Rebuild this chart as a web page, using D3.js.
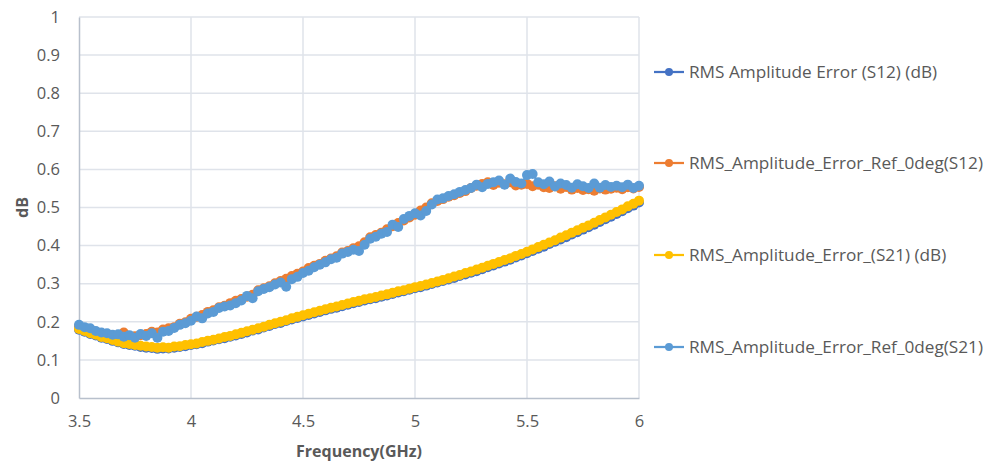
<!DOCTYPE html>
<html>
<head>
<meta charset="utf-8">
<script src="https://cdn.jsdelivr.net/npm/d3@7"></script>
<style>
  body { margin: 0; background: #fff; }
  svg { display: block; font-family: "Open Sans", "Liberation Sans", sans-serif; }
</style>
</head>
<body>
<svg id="chart" width="997" height="462"></svg>
<script>
// Frequency sweep (GHz), 3.5 to 6 in 0.025 steps
const freq = d3.range(0, 101).map((i) => +(3.5 + i * 0.025).toFixed(3));

// RMS Amplitude Error (S12) (dB)
const s12 = [
  0.179, 0.174, 0.168, 0.164, 0.158, 0.155, 0.150, 0.146, 0.142, 0.139,
  0.137, 0.134, 0.132, 0.131, 0.129, 0.130, 0.130, 0.132, 0.134, 0.136,
  0.139, 0.141, 0.144, 0.148, 0.151, 0.154, 0.157, 0.161, 0.164, 0.168,
  0.172, 0.177, 0.180, 0.185, 0.189, 0.194, 0.197, 0.202, 0.206, 0.210,
  0.214, 0.218, 0.222, 0.226, 0.230, 0.234, 0.237, 0.241, 0.245, 0.249,
  0.252, 0.256, 0.259, 0.262, 0.266, 0.269, 0.273, 0.277, 0.280, 0.284,
  0.288, 0.291, 0.295, 0.299, 0.303, 0.307, 0.311, 0.315, 0.320, 0.324,
  0.329, 0.333, 0.338, 0.343, 0.348, 0.353, 0.358, 0.363, 0.369, 0.374,
  0.380, 0.386, 0.392, 0.397, 0.404, 0.410, 0.416, 0.422, 0.429, 0.435,
  0.442, 0.448, 0.455, 0.462, 0.469, 0.476, 0.483, 0.490, 0.498, 0.505,
  0.513
];

// RMS_Amplitude_Error_Ref_0deg(S12)
const s12ref = [
  0.188, 0.184, 0.179, 0.174, 0.170, 0.166, 0.164, 0.160, 0.172, 0.159,
  0.162, 0.165, 0.168, 0.174, 0.172, 0.180, 0.183, 0.186, 0.195, 0.199,
  0.208, 0.213, 0.218, 0.226, 0.230, 0.238, 0.242, 0.249, 0.255, 0.260,
  0.266, 0.271, 0.283, 0.288, 0.293, 0.301, 0.307, 0.313, 0.320, 0.326,
  0.332, 0.341, 0.347, 0.352, 0.360, 0.366, 0.372, 0.382, 0.386, 0.393,
  0.398, 0.409, 0.422, 0.428, 0.434, 0.443, 0.451, 0.459, 0.466, 0.474,
  0.481, 0.492, 0.500, 0.511, 0.517, 0.522, 0.528, 0.532, 0.538, 0.543,
  0.551, 0.557, 0.562, 0.566, 0.559, 0.565, 0.561, 0.566, 0.558, 0.560,
  0.562, 0.556, 0.560, 0.553, 0.551, 0.556, 0.549, 0.554, 0.547, 0.551,
  0.546, 0.548, 0.544, 0.550, 0.547, 0.549, 0.552, 0.548, 0.553, 0.550,
  0.554
];

// RMS_Amplitude_Error_(S21) (dB)
const s21 = [
  0.181, 0.176, 0.170, 0.166, 0.160, 0.157, 0.152, 0.148, 0.144, 0.142,
  0.139, 0.137, 0.135, 0.134, 0.132, 0.133, 0.132, 0.135, 0.136, 0.139,
  0.141, 0.143, 0.147, 0.150, 0.153, 0.156, 0.160, 0.163, 0.167, 0.171,
  0.175, 0.179, 0.183, 0.187, 0.192, 0.196, 0.200, 0.204, 0.209, 0.213,
  0.217, 0.221, 0.225, 0.229, 0.233, 0.237, 0.240, 0.244, 0.248, 0.252,
  0.255, 0.259, 0.262, 0.265, 0.269, 0.272, 0.276, 0.280, 0.283, 0.287,
  0.291, 0.294, 0.298, 0.302, 0.306, 0.310, 0.314, 0.319, 0.323, 0.328,
  0.332, 0.337, 0.342, 0.347, 0.352, 0.357, 0.362, 0.367, 0.373, 0.378,
  0.384, 0.390, 0.396, 0.402, 0.408, 0.414, 0.421, 0.427, 0.434, 0.440,
  0.447, 0.453, 0.460, 0.467, 0.474, 0.481, 0.488, 0.495, 0.503, 0.510,
  0.518
];

// RMS_Amplitude_Error_Ref_0deg(S21)
const s21ref = [
  0.192, 0.186, 0.183, 0.176, 0.172, 0.170, 0.166, 0.167, 0.161, 0.165,
  0.158, 0.168, 0.163, 0.170, 0.158, 0.174, 0.176, 0.184, 0.192, 0.196,
  0.203, 0.214, 0.209, 0.222, 0.226, 0.236, 0.240, 0.243, 0.249, 0.256,
  0.268, 0.262, 0.280, 0.286, 0.291, 0.298, 0.303, 0.292, 0.312, 0.318,
  0.328, 0.334, 0.343, 0.350, 0.356, 0.364, 0.368, 0.379, 0.383, 0.389,
  0.386, 0.402, 0.418, 0.423, 0.431, 0.436, 0.455, 0.449, 0.470, 0.478,
  0.485, 0.479, 0.491, 0.508, 0.521, 0.524, 0.530, 0.535, 0.541, 0.546,
  0.551, 0.560, 0.553, 0.562, 0.566, 0.571, 0.560, 0.576, 0.567, 0.563,
  0.585, 0.588, 0.566, 0.561, 0.568, 0.555, 0.563, 0.559, 0.552, 0.561,
  0.556, 0.551, 0.563, 0.552, 0.559, 0.554, 0.557, 0.553, 0.560, 0.551,
  0.557
];

const seriesNames = [
  'RMS Amplitude Error (S12) (dB)',
  'RMS_Amplitude_Error_Ref_0deg(S12)',
  'RMS_Amplitude_Error_(S21) (dB)',
  'RMS_Amplitude_Error_Ref_0deg(S21)'
];
const seriesValues = [s12, s12ref, s21, s21ref];
const seriesColors = ['#4472c4', '#ed7d31', '#ffc000', '#5b9bd5'];

const xTicks = [3.5, 4, 4.5, 5, 5.5, 6];
const yTicks = [0, 0.1, 0.2, 0.3, 0.4, 0.5, 0.6, 0.7, 0.8, 0.9, 1];

const svg = d3.select('#chart');
const plot = { left: 79, right: 639, top: 17, bottom: 398 };

const x = d3.scaleLinear().domain([3.5, 6]).range([plot.left, plot.right]);
const y = d3.scaleLinear().domain([0, 1]).range([plot.bottom, plot.top]);

// Gridlines
svg.append('g')
  .selectAll('line')
  .data(yTicks.slice(1))
  .join('line')
  .attr('x1', plot.left).attr('x2', plot.right)
  .attr('y1', (d) => y(d)).attr('y2', (d) => y(d))
  .attr('stroke', '#dfe3ea').attr('stroke-width', 1.5);

svg.append('g')
  .selectAll('line')
  .data(xTicks.slice(1))
  .join('line')
  .attr('x1', (d) => x(d)).attr('x2', (d) => x(d))
  .attr('y1', plot.top).attr('y2', plot.bottom)
  .attr('stroke', '#dfe3ea').attr('stroke-width', 1.5);

// Axes
const xAxis = svg.append('g')
  .attr('transform', `translate(0,${plot.bottom})`)
  .call(d3.axisBottom(x).tickValues(xTicks).tickSize(0).tickPadding(17).tickFormat(d3.format('')));
const yAxis = svg.append('g')
  .attr('transform', `translate(${plot.left},0)`)
  .call(d3.axisLeft(y).tickValues(yTicks).tickSize(0).tickPadding(19).tickFormat(d3.format('')));

[xAxis, yAxis].forEach((g) => {
  g.select('.domain').attr('stroke', '#b8c0cc').attr('stroke-width', 1.5);
  g.selectAll('text')
    .attr('fill', '#595959')
    .style('font-size', '16.5px')
    .style('font-family', '"Open Sans", sans-serif');
});

// Axis titles
svg.append('text')
  .attr('x', (plot.left + plot.right) / 2)
  .attr('y', 457)
  .attr('text-anchor', 'middle')
  .attr('fill', '#595959')
  .style('font-size', '16px')
  .style('font-weight', 'bold')
  .text('Frequency(GHz)');

svg.append('text')
  .attr('transform', `translate(28,${(plot.top + plot.bottom) / 2}) rotate(-90)`)
  .attr('text-anchor', 'middle')
  .attr('fill', '#595959')
  .style('font-size', '16px')
  .style('font-weight', 'bold')
  .text('dB');

// Series: line + markers, drawn in Excel series order
const line = d3.line()
  .x((d) => x(d[0]))
  .y((d) => y(d[1]));

seriesValues.forEach((vals, idx) => {
  const pts = freq.map((f, i) => [f, vals[i]]);
  const g = svg.append('g');
  g.append('path')
    .attr('d', line(pts))
    .attr('fill', 'none')
    .attr('stroke', seriesColors[idx])
    .attr('stroke-width', 2.25);
  g.selectAll('circle')
    .data(pts)
    .join('circle')
    .attr('cx', (d) => x(d[0]))
    .attr('cy', (d) => y(d[1]))
    .attr('r', 5)
    .attr('fill', seriesColors[idx]);
});

// Legend
const legendY = [72, 163, 255, 347];
const legend = svg.append('g');
seriesNames.forEach((name, idx) => {
  const row = legend.append('g').attr('transform', `translate(0,${legendY[idx]})`);
  row.append('line')
    .attr('x1', 654).attr('x2', 684)
    .attr('stroke', seriesColors[idx]).attr('stroke-width', 2.25);
  row.append('circle')
    .attr('cx', 669).attr('r', 4)
    .attr('fill', seriesColors[idx]);
  row.append('text')
    .attr('x', 689).attr('dy', '0.35em')
    .attr('fill', '#595959')
    .style('font-size', '17.2px')
    .text(name);
});
</script>
</body>
</html>
